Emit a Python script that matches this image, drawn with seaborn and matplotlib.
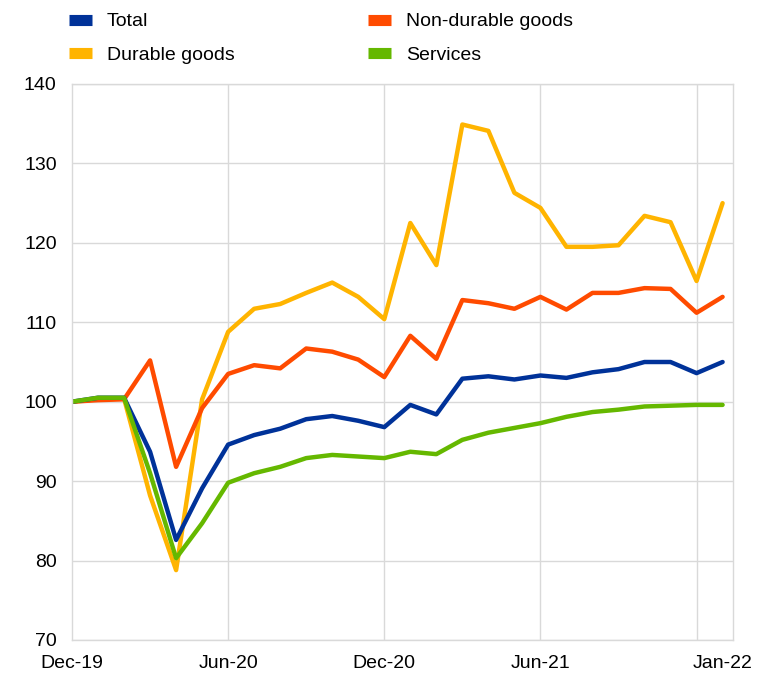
import matplotlib
matplotlib.use("Agg")
import matplotlib.pyplot as plt
import seaborn as sns
import pandas as pd
import numpy as np
from matplotlib.lines import Line2D

months = pd.date_range("2019-12-01", "2022-01-01", freq="MS").strftime("%b-%y").tolist()

total = [100.0, 100.5, 100.5, 93.7, 82.6, 89.1, 94.6, 95.8, 96.6, 97.8, 98.2, 97.6, 96.8,
         99.6, 98.4, 102.9, 103.2, 102.8, 103.3, 103.0, 103.7, 104.1, 105.0, 105.0, 103.6, 105.0]
non_durable = [100.0, 100.2, 100.3, 105.2, 91.8, 99.2, 103.5, 104.6, 104.2, 106.7, 106.3, 105.3, 103.1,
               108.3, 105.4, 112.8, 112.4, 111.7, 113.2, 111.6, 113.7, 113.7, 114.3, 114.2, 111.2, 113.2]
durable = [100.0, 100.3, 100.4, 88.2, 78.8, 100.3, 108.8, 111.7, 112.3, 113.7, 115.0, 113.2, 110.4,
           122.5, 117.2, 134.9, 134.1, 126.3, 124.4, 119.5, 119.5, 119.7, 123.4, 122.6, 115.2, 125.0]
services = [100.0, 100.5, 100.5, 91.0, 80.3, 84.7, 89.8, 91.0, 91.8, 92.9, 93.3, 93.1, 92.9,
            93.7, 93.4, 95.2, 96.1, 96.7, 97.3, 98.1, 98.7, 99.0, 99.4, 99.5, 99.6, 99.6]

series_names = ["Total", "Durable goods", "Non-durable goods", "Services"]
colors = {"Total": "#003299", "Non-durable goods": "#FF4B00",
          "Durable goods": "#FFB400", "Services": "#65B800"}

tick_labels = ["Dec-19", "Jun-20", "Dec-20", "Jun-21", "Jan-22"]
y_ticks = [70, 80, 90, 100, 110, 120, 130, 140]

df = pd.DataFrame({
    "idx": list(range(len(months))) * 4,
    "value": total + durable + non_durable + services,
    "series": sum([[n] * len(months) for n in ["Total", "Durable goods", "Non-durable goods", "Services"]], []),
})

sns.set_theme(style="white")
plt.rcParams['font.family'] = ['Liberation Sans', 'DejaVu Sans']
plt.rcParams['text.color'] = 'black'

fig = plt.figure(figsize=(7.65, 6.76), dpi=100)
ax = fig.add_axes([72/765, 36/676, (733-72)/765, (640-84)/676])

sns.lineplot(data=df, x="idx", y="value", hue="series",
             hue_order=["Durable goods", "Non-durable goods", "Total", "Services"],
             palette=colors, linewidth=3.2, legend=False, ax=ax)

ax.set_xlim(0, 25.4)
ax.set_ylim(70, 140)
ax.set_yticks(y_ticks)
ax.set_yticklabels([str(v) for v in y_ticks])

lab_pos = [months.index(l) for l in tick_labels]
ax.xaxis.remove_overlapping_locs = False
ax.set_xticks(lab_pos)
ax.set_xticklabels(tick_labels)
ax.set_xticks([6, 12, 18, 24], minor=True)
ax.grid(False)
ax.grid(True, which="minor", axis="x", color="#d9d9d9", linewidth=1)
ax.grid(True, which="major", axis="y", color="#d9d9d9", linewidth=1)
ax.set_axisbelow(True)
ax.tick_params(axis="both", which="both", length=0, labelsize=14, colors="black")
ax.tick_params(axis="x", pad=11)
ax.tick_params(axis="y", pad=11)
for s in ax.spines.values():
    s.set_color("#d9d9d9")
    s.set_linewidth(1)
ax.set_xlabel("")
ax.set_ylabel("")

handles = [Line2D([0], [0], color=colors[n], linewidth=8, solid_capstyle="butt") for n in series_names]
leg = fig.legend(handles, series_names, loc="upper left", bbox_to_anchor=(69/765, 0.981),
                 ncol=2, frameon=False, fontsize=14, handlelength=1.2, handletextpad=0.75,
                 columnspacing=6.85, labelspacing=0.82, borderpad=0, borderaxespad=0)
for t in leg.get_texts():
    t.set_color("black")

fig.savefig("out.png", dpi=100)
